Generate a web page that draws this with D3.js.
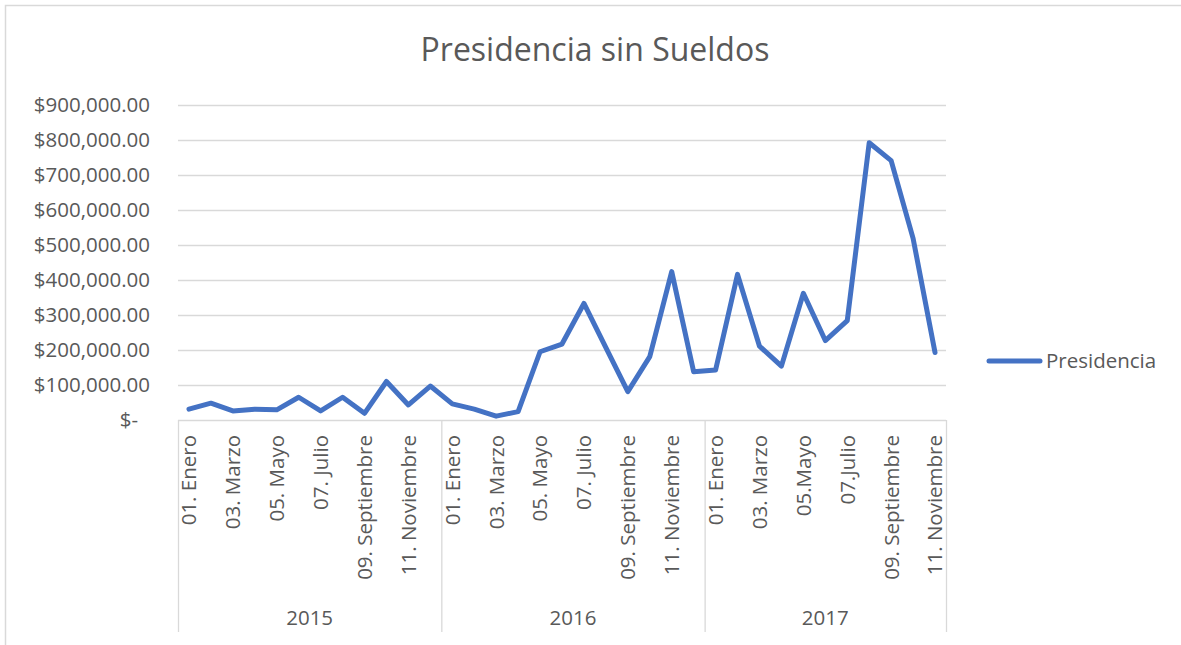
<!DOCTYPE html>
<html>
<head>
<meta charset="utf-8">
<script src="https://cdn.jsdelivr.net/npm/d3@7"></script>
<style>
  html, body { margin: 0; padding: 0; background: #fff; }
  svg { display: block; font-family: "Open Sans", sans-serif; }
</style>
</head>
<body>
<svg id="chart" width="1181" height="645"></svg>
<script>
// ---- data ----
const title = "Presidencia sin Sueldos";
const seriesName = "Presidencia";
const years = ["2015", "2016", "2017"];
const months2015 = ["01. Enero","02. Febrero","03. Marzo","04. Abril","05. Mayo","06. Junio","07. Julio","08. Agosto","09. Septiembre","10. Octubre","11. Noviembre","12. Diciembre"];
const months2016 = ["01. Enero","02. Febrero","03. Marzo","04. Abril","05. Mayo","06. Junio","07. Julio","08. Agosto","09. Septiembre","10. Octubre","11. Noviembre","12. Diciembre"];
const months2017 = ["01. Enero","02. Febrero","03. Marzo","04. Abril","05.Mayo","06.Junio","07.Julio","08. Agosto","09. Septiembre","10. Octubre","11. Noviembre"];
const values2015 = [31000, 48000, 26000, 31000, 29000, 65000, 26000, 65000, 19000, 110000, 43000, 97000];
const values2016 = [46000, 31000, 11000, 24000, 195000, 217000, 333000, 207000, 81000, 181000, 424000, 138000];
const values2017 = [143000, 416000, 211000, 154000, 362000, 227000, 284000, 792000, 741000, 519000, 193000];
const yTicks = [0, 100000, 200000, 300000, 400000, 500000, 600000, 700000, 800000, 900000];

(function () {
// ---- build rows ----
const groups = [
  { year: years[0], months: months2015, values: values2015 },
  { year: years[1], months: months2016, values: values2016 },
  { year: years[2], months: months2017, values: values2017 }
];
const rows = [];
groups.forEach(g => g.months.forEach((m, i) => rows.push({ key: g.year + "|" + i, year: g.year, month: m, idx: i, value: g.values[i] })));

const svg = d3.select("#chart");
const textColor = "#595959";
const gridColor = "#d9d9d9";
const lineColor = "#4472C4";

const pLeft = 178, pRight = 946, pTop = 105, pBottom = 420, axisBottom = 632;

const x = d3.scaleBand().domain(rows.map(r => r.key)).range([pLeft, pRight]).padding(0);
const y = d3.scaleLinear().domain([0, 900000]).range([pBottom, pTop]);

// chart border
svg.append("path")
  .attr("d", `M5.5,645 L5.5,5.5 L1181,5.5`)
  .attr("fill", "none").attr("stroke", gridColor).attr("stroke-width", 1.5);

// title
svg.append("text")
  .attr("x", 595).attr("y", 61)
  .attr("text-anchor", "middle")
  .attr("fill", textColor)
  .attr("font-size", 32)
  .text(title);

// gridlines
svg.append("g").selectAll("line").data(yTicks).join("line")
  .attr("x1", pLeft).attr("x2", pRight)
  .attr("y1", d => y(d) + 0.5).attr("y2", d => y(d) + 0.5)
  .attr("stroke", gridColor).attr("stroke-width", 1.3);

// y axis labels
const fmt = d3.format(",.2f");
svg.append("g").selectAll("text").data(yTicks).join("text")
  .attr("x", d => d === 0 ? 138 : 150)
  .attr("y", d => y(d))
  .attr("dy", "0.36em")
  .attr("text-anchor", "end")
  .attr("fill", textColor)
  .attr("font-size", 20.5)
  .text(d => d === 0 ? "$-" : "$" + fmt(d));

// category axis separators
const boundaries = [pLeft];
let acc = 0;
groups.forEach(g => { acc += g.months.length; boundaries.push(acc === rows.length ? pRight : x(rows[acc].key)); });
svg.append("g").selectAll("line").data(boundaries).join("line")
  .attr("x1", d => d + 0.5).attr("x2", d => d + 0.5)
  .attr("y1", pBottom).attr("y2", axisBottom)
  .attr("stroke", gridColor).attr("stroke-width", 1.3);

// month labels (every other)
svg.append("g").selectAll("text").data(rows.filter(r => r.idx % 2 === 0)).join("text")
  .attr("transform", d => `translate(${x(d.key) + x.bandwidth() / 2},435) rotate(-90)`)
  .attr("dy", "0.36em")
  .attr("text-anchor", "end")
  .attr("fill", textColor)
  .attr("font-size", 20.5)
  .text(d => d.month);

// year labels
svg.append("g").selectAll("text").data(groups).join("text")
  .attr("x", (d, i) => (boundaries[i] + boundaries[i + 1]) / 2)
  .attr("y", 625)
  .attr("text-anchor", "middle")
  .attr("fill", textColor)
  .attr("font-size", 20.5)
  .text(d => d.year);

// line
const line = d3.line().x(d => x(d.key) + x.bandwidth() / 2).y(d => y(d.value));
svg.append("path").datum(rows)
  .attr("d", line)
  .attr("fill", "none")
  .attr("stroke", lineColor)
  .attr("stroke-width", 5)
  .attr("stroke-linejoin", "round")
  .attr("stroke-linecap", "round");

// legend
svg.append("line")
  .attr("x1", 989).attr("x2", 1040).attr("y1", 361).attr("y2", 361)
  .attr("stroke", lineColor).attr("stroke-width", 5).attr("stroke-linecap", "round");
svg.append("text")
  .attr("x", 1046).attr("y", 361).attr("dy", "0.36em")
  .attr("fill", textColor).attr("font-size", 20.5)
  .text(seriesName);
})();
</script>
</body>
</html>
